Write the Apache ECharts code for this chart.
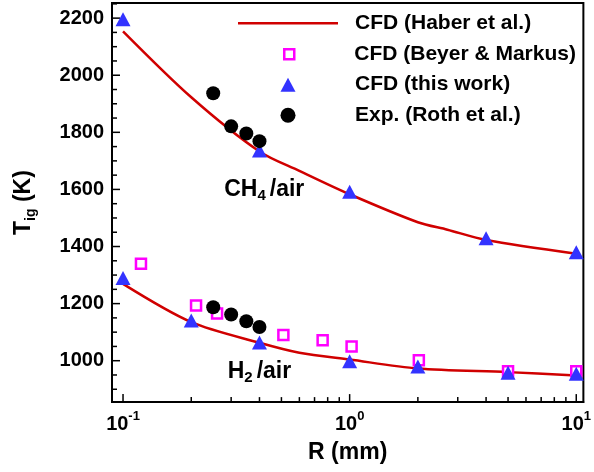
<!DOCTYPE html>
<html>
<head>
<meta charset="utf-8">
<script src="https://cdn.jsdelivr.net/npm/echarts@6/dist/echarts.min.js"></script>
<style>html,body{margin:0;padding:0;background:#fff;}#c{width:594px;height:472px;}</style>
</head>
<body>
<div id="c"></div>
<script>
// ---- data ----
const haberCH4_R = [0.1, 0.2, 0.4, 0.6, 1, 2, 2.7, 4, 10];
const haberCH4_T = [2154, 1923, 1733, 1665, 1583, 1485, 1459, 1423, 1375];
const haberH2_R = [0.1, 0.2, 0.4, 0.6, 1, 2, 5, 10];
const haberH2_T = [1269, 1135, 1063, 1028, 1004, 973, 960, 948];

const beyer_R = [0.12, 0.21, 0.26, 0.51, 0.76, 1.02, 2.02, 5, 10];
const beyer_T = [1340, 1193, 1165, 1090, 1072, 1050, 1002, 963, 963];

const thisCH4_R = [0.1, 0.4, 1, 4, 10];
const thisCH4_T = [2196, 1736, 1592, 1429, 1380];
const thisH2_R = [0.1, 0.2, 0.4, 1, 2, 5, 10];
const thisH2_T = [1290, 1141, 1064, 998, 980, 958, 954];

const rothCH4_R = [0.25, 0.3, 0.35, 0.4];
const rothCH4_T = [1937, 1821, 1796, 1769];
const rothH2_R = [0.25, 0.3, 0.35, 0.4];
const rothH2_T = [1187, 1162, 1138, 1118];

const seriesNames = ['CFD (Haber et al.)', 'CFD (Beyer & Markus)', 'CFD (this work)', 'Exp. (Roth et al.)'];

const xMajorTicks = [0.1, 1, 10];
const xMajorExp = ['-1', '0', '1'];
const xMinorTicks = [0.2, 0.3, 0.4, 0.5, 0.6, 0.7, 0.8, 0.9, 2, 3, 4, 5, 6, 7, 8, 9];
const yMajorTicks = [1000, 1200, 1400, 1600, 1800, 2000, 2200];
const yMinorTicks = [900, 950, 1050, 1100, 1150, 1250, 1300, 1350, 1450, 1500, 1550, 1650, 1700, 1750, 1850, 1900, 1950, 2050, 2100, 2150, 2250];

const annotations = [
  {R: 0.42, T: 1599, text: '{b|CH}{s|4}{b|/air}'},
  {R: 0.40, T: 962, text: '{b|H}{s|2}{b|/air}'}
];

const pairs = (xs, ys) => xs.map((x, i) => [x, ys[i]]);

// ---- chart ----
const FONT = '"Liberation Sans", Arial, sans-serif';
const chart = echarts.init(document.getElementById('c'), null, {renderer: 'canvas'});
const xMin = 0.0894, xMax = 10.75, yMin = 855, yMax = 2253;

const legendText = {fontFamily: FONT, fontWeight: 'bold', fontSize: 21, lineHeight: 22, color: '#000'};
function mkLegend(item, left, top, w, h, padLeft) {
  return {
    orient: 'vertical', padding: 0, itemGap: 0, selectedMode: false,
    left: left, top: top, itemWidth: w, itemHeight: h, symbolKeepAspect: false,
    textStyle: Object.assign({}, legendText, {padding: [0, 0, 0, padLeft]}),
    data: [item]
  };
}
// tick marks drawn through the axes' own scales (inside ticks)
function xTickSeries(vals, len) {
  return {type: 'scatter', silent: true, clip: false, z: 1, symbol: 'rect', symbolSize: [1.5, len], symbolOffset: [0, -len / 2],
    itemStyle: {color: '#000', opacity: 1}, data: vals.map(v => [v, yMin])};
}
function yTickSeries(vals, len) {
  return {type: 'scatter', silent: true, clip: false, z: 1, symbol: 'rect', symbolSize: [len, 1.5], symbolOffset: [len / 2, 0],
    itemStyle: {color: '#000', opacity: 1}, data: vals.map(v => [xMin, v])};
}

const option = {
  animation: false,
  backgroundColor: '#fff',
  grid: {left: 112, right: 6, top: 3, bottom: 65.5, show: true, borderColor: '#000', borderWidth: 2},
  xAxis: {
    type: 'log', min: xMin, max: xMax, position: 'bottom',
    name: 'R (mm)', nameLocation: 'middle', nameGap: 29,
    nameTextStyle: {fontFamily: FONT, fontWeight: 'bold', fontSize: 23, color: '#000', lineHeight: 28},
    axisLine: {show: true, onZero: false, lineStyle: {color: '#000', width: 2}},
    axisTick: {show: false},
    axisLabel: {
      show: true, margin: 8, customValues: xMajorTicks,
      formatter: function (v) {
        const i = xMajorTicks.findIndex(t => Math.abs(t - v) / t < 1e-6);
        return '{b|10}{s|' + (i >= 0 ? xMajorExp[i] : '') + '}';
      },
      rich: {
        b: {fontFamily: FONT, fontWeight: 'bold', fontSize: 20, color: '#000', lineHeight: 24, verticalAlign: 'bottom'},
        s: {fontFamily: FONT, fontWeight: 'bold', fontSize: 13, color: '#000', lineHeight: 13, verticalAlign: 'top'}
      }
    },
    splitLine: {show: false}
  },
  yAxis: {
    type: 'value', min: yMin, max: yMax, position: 'left',
    name: '{b|T}{s|ig}{b| (K)}', nameLocation: 'middle', nameGap: 74, nameRotate: 90,
    nameTextStyle: {
      rich: {
        b: {fontFamily: FONT, fontWeight: 'bold', fontSize: 23, color: '#000', lineHeight: 28, verticalAlign: 'middle'},
        s: {fontFamily: FONT, fontWeight: 'bold', fontSize: 14, color: '#000', lineHeight: 28, verticalAlign: 'bottom'}
      }
    },
    axisLine: {show: true, onZero: false, lineStyle: {color: '#000', width: 2}},
    axisTick: {show: false},
    axisLabel: {show: true, margin: 8, customValues: yMajorTicks, formatter: v => String(v),
      fontFamily: FONT, fontWeight: 'bold', fontSize: 20, color: '#000'},
    splitLine: {show: false}
  },
  legend: [
    mkLegend({name: seriesNames[0], icon: 'rect', itemStyle: {color: '#d00000', borderWidth: 0}}, 238, 12.2, 100, 2.5, 12),
    mkLegend({name: seriesNames[1], icon: 'rect', itemStyle: {color: '#fff', borderColor: '#ff00ff', borderWidth: 2.5}}, 283, 43.2, 10, 10, 55),
    mkLegend({name: seriesNames[2], icon: 'triangle', itemStyle: {color: '#3333ff', borderWidth: 0}}, 280.5, 73.7, 15, 14, 54.5),
    mkLegend({name: seriesNames[3], icon: 'circle', itemStyle: {color: '#000', borderWidth: 0}}, 280.5, 104.2, 15, 15, 54.5)
  ],
  series: [
    xTickSeries(xMajorTicks, 8),
    xTickSeries(xMinorTicks, 5),
    yTickSeries(yMajorTicks, 8),
    yTickSeries(yMinorTicks, 5),
    {name: seriesNames[0], type: 'line', data: pairs(haberCH4_R, haberCH4_T), symbol: 'none', smooth: 0.3,
      lineStyle: {color: '#d00000', width: 2.5}, itemStyle: {color: '#d00000'}, z: 2},
    {name: seriesNames[0], type: 'line', data: pairs(haberH2_R, haberH2_T), symbol: 'none', smooth: 0.3,
      lineStyle: {color: '#d00000', width: 2.5}, itemStyle: {color: '#d00000'}, z: 2},
    {name: seriesNames[1], type: 'scatter', data: pairs(beyer_R, beyer_T), symbol: 'rect', symbolSize: 10,
      itemStyle: {color: '#fff', borderColor: '#ff00ff', borderWidth: 2.5, opacity: 1}, z: 3},
    {name: seriesNames[2], type: 'scatter', data: pairs(thisCH4_R, thisCH4_T), symbol: 'triangle', symbolSize: [15, 14],
      itemStyle: {color: '#3333ff', opacity: 1}, z: 4},
    {name: seriesNames[2], type: 'scatter', data: pairs(thisH2_R, thisH2_T), symbol: 'triangle', symbolSize: [15, 14],
      itemStyle: {color: '#3333ff', opacity: 1}, z: 4},
    {name: seriesNames[3], type: 'scatter', data: pairs(rothCH4_R, rothCH4_T), symbol: 'circle', symbolSize: 14,
      itemStyle: {color: '#000', opacity: 1}, z: 5},
    {name: seriesNames[3], type: 'scatter', data: pairs(rothH2_R, rothH2_T), symbol: 'circle', symbolSize: 14,
      itemStyle: {color: '#000', opacity: 1}, z: 5},
    {name: 'annotations', type: 'scatter', symbolSize: 0, silent: true, z: 6,
      itemStyle: {opacity: 1},
      data: annotations.map(a => ({value: [a.R, a.T], label: {formatter: a.text}})),
      label: {show: true, position: 'inside', color: '#000', opacity: 1, textBorderWidth: 0,
        rich: {
          b: {fontFamily: FONT, fontWeight: 'bold', fontSize: 23, color: '#000', lineHeight: 28, verticalAlign: 'middle', textBorderWidth: 0},
          s: {fontFamily: FONT, fontWeight: 'bold', fontSize: 15, color: '#000', lineHeight: 28, verticalAlign: 'bottom', padding: [0, 4, 0, 0], textBorderWidth: 0}
        }
      }
    }
  ]
};
chart.setOption(option);
</script>
</body>
</html>
